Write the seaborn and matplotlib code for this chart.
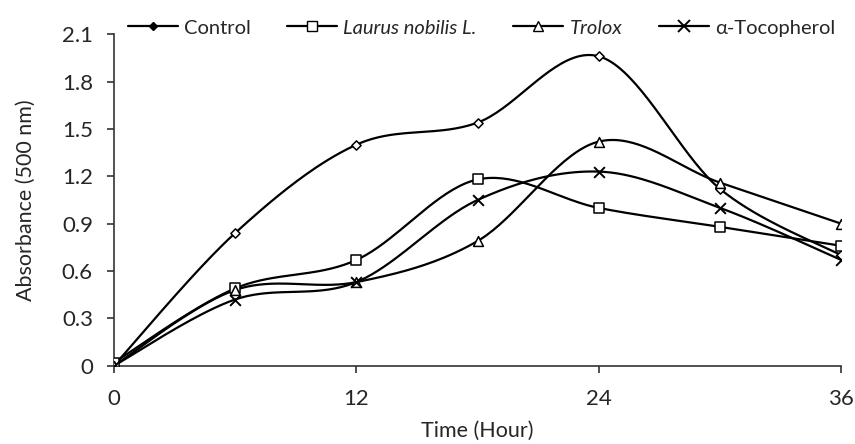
import numpy as np
import pandas as pd
import seaborn as sns
import matplotlib.pyplot as plt
from matplotlib.lines import Line2D

# values
hours = [0, 6, 12, 18, 24, 30, 36]
control = [0.00, 0.84, 1.40, 1.54, 1.96, 1.12, 0.70]
laurus = [0.02, 0.49, 0.67, 1.18, 1.00, 0.88, 0.76]
trolox = [0.00, 0.48, 0.53, 0.79, 1.42, 1.16, 0.90]
tocopherol = [0.00, 0.42, 0.53, 1.05, 1.23, 1.00, 0.67]

labels = ["Control", "Laurus nobilis L.", "Trolox", "\u03b1-Tocopherol"]
series = [control, laurus, trolox, tocopherol]
markers = ["D", "s", "^", "x"]


def smooth(x, y, n=40):
    # Excel-like smoothed line (Catmull-Rom through the points)
    pts = np.column_stack([x, y]).astype(float)
    p = np.vstack([pts[0], pts, pts[-1]])
    t = np.linspace(0, 1, n)[:, None]
    segs = []
    for i in range(1, len(p) - 2):
        p0, p1, p2, p3 = p[i - 1], p[i], p[i + 1], p[i + 2]
        segs.append(0.5 * (2 * p1 + (-p0 + p2) * t
                           + (2 * p0 - 5 * p1 + 4 * p2 - p3) * t ** 2
                           + (-p0 + 3 * p1 - 3 * p2 + p3) * t ** 3))
    return np.vstack(segs)


curves = []
points = []
for lab, vals in zip(labels, series):
    c = smooth(hours, vals)
    curves.append(pd.DataFrame({"x": c[:, 0], "y": c[:, 1], "s": lab}))
    points.append(pd.DataFrame({"x": hours, "y": vals, "s": lab}))
curves = pd.concat(curves, ignore_index=True)
points = pd.concat(points, ignore_index=True)

sns.set_style("ticks")
plt.rcParams["font.family"] = ["Lato", "DejaVu Sans"]

fig = plt.figure(figsize=(8.55, 4.44), dpi=100)
ax = fig.add_axes([0.133, 0.176, 0.851, 0.747])

sns.lineplot(data=curves, x="x", y="y", hue="s", units="s", estimator=None,
             sort=False, palette=["black"] * 4, linewidth=1.6, legend=False, ax=ax)

for lab, m in zip(labels, markers):
    d = points[points["s"] == lab]
    if m == "x":
        sns.scatterplot(data=d, x="x", y="y", marker="x", color="black", s=60,
                        linewidth=1.4, ax=ax, zorder=3)
    else:
        size = 22 if m == "D" else 50
        sns.scatterplot(data=d, x="x", y="y", marker=m, facecolor="white",
                        edgecolor="black", s=size, linewidth=1.1, ax=ax, zorder=3)

ax.set_xlim(0, 36)
ax.set_ylim(0, 2.1)
ax.set_xticks([0, 12, 24, 36])
ax.set_yticks(np.arange(0, 2.11, 0.3))
ax.set_yticklabels(["0", "0.3", "0.6", "0.9", "1.2", "1.5", "1.8", "2.1"])
ax.tick_params(axis="both", labelsize=16, length=5, width=1.2, color="#333333")
ax.tick_params(axis="y", pad=10)
ax.tick_params(axis="x", pad=12)
for sp in ["left", "bottom"]:
    ax.spines[sp].set_linewidth(1.2)
    ax.spines[sp].set_color("#333333")
sns.despine(ax=ax)
ax.set_xlabel("Time (Hour)", fontsize=15.5, labelpad=8)
ax.set_ylabel("Absorbance (500 nm)", fontsize=15.5, labelpad=19)

handles = [
    Line2D([], [], color="black", lw=1.6, marker="D", markersize=4,
           markerfacecolor="black"),
    Line2D([], [], color="black", lw=1.6, marker="s", markersize=7,
           markerfacecolor="white"),
    Line2D([], [], color="black", lw=1.6, marker="^", markersize=7,
           markerfacecolor="white"),
    Line2D([], [], color="black", lw=1.6, marker="x", markersize=8,
           markeredgewidth=1.4),
]
leg = fig.legend(handles, labels, loc="center", bbox_to_anchor=(0.563, 0.937),
                 ncol=4, frameon=False, fontsize=14.5, handlelength=2.5,
                 handletextpad=0.3, columnspacing=1.8, borderaxespad=0)
leg.get_texts()[1].set_style("italic")
leg.get_texts()[2].set_style("italic")

fig.savefig("out.png", dpi=100)
